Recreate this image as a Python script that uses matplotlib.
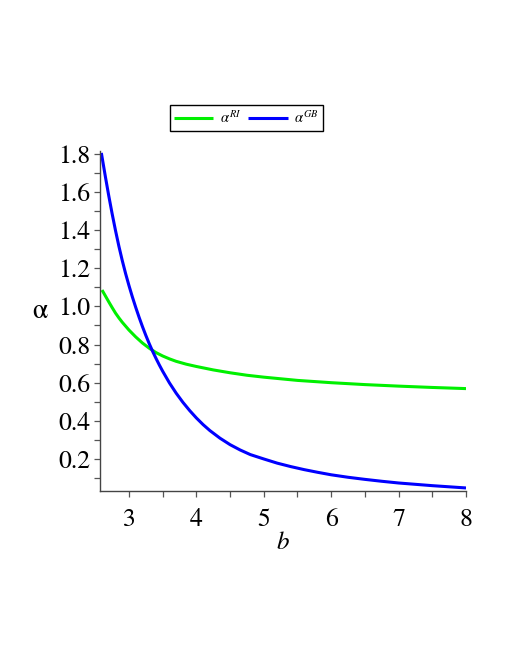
import matplotlib
matplotlib.use("Agg")
import matplotlib.pyplot as plt
from matplotlib.ticker import MultipleLocator

# Data
b_ri = [2.60, 2.65, 2.70, 2.75, 2.80, 2.85, 2.90, 3.00, 3.10, 3.20, 3.30, 3.40, 3.50, 3.60, 3.70, 3.85,
        4.00, 4.25, 4.50, 4.75, 5.00, 5.50, 6.00, 6.50, 7.00, 7.50, 8.00]
alpha_ri = [1.086, 1.055, 1.024, 0.994, 0.965, 0.940, 0.917, 0.876, 0.840, 0.808, 0.781, 0.758, 0.740, 0.725, 0.712, 0.697,
            0.685, 0.667, 0.652, 0.639, 0.629, 0.612, 0.600, 0.590, 0.582, 0.575, 0.569]

b_gb = [2.59, 2.65, 2.70, 2.75, 2.80, 2.85, 2.90, 2.95, 3.00, 3.05, 3.10, 3.15, 3.20, 3.25, 3.30, 3.35, 3.40, 3.45,
        3.50, 3.60, 3.70, 3.80, 3.90, 4.00, 4.10, 4.20, 4.35, 4.50, 4.65, 4.80, 5.00, 5.20, 5.40, 5.60, 5.80,
        6.00, 6.25, 6.50, 6.75, 7.00, 7.25, 7.50, 7.75, 8.00]
alpha_gb = [1.805, 1.680, 1.580, 1.486, 1.398, 1.316, 1.241, 1.172, 1.109, 1.050, 0.995, 0.943, 0.894, 0.848, 0.805,
            0.765, 0.728, 0.693, 0.660, 0.599, 0.545, 0.497, 0.454, 0.415, 0.380, 0.349, 0.309, 0.275, 0.247, 0.223,
            0.200, 0.178, 0.160, 0.144, 0.130, 0.117, 0.104, 0.093, 0.083, 0.074, 0.067, 0.060, 0.054, 0.048]

labels = [r'$\alpha^{RI}$', r'$\alpha^{GB}$']
colors = ['#00f000', '#0000ff']
x_ticks = [3, 4, 5, 6, 7, 8]
y_ticks = [0.2, 0.4, 0.6, 0.8, 1.0, 1.2, 1.4, 1.6, 1.8]

plt.rcParams['mathtext.fontset'] = 'stix'
plt.rcParams['font.family'] = ['STIXGeneral', 'Liberation Serif', 'DejaVu Serif']

fig = plt.figure(figsize=(5.1, 6.6), dpi=100)
ax = fig.add_axes([100/510, 1-491/660, 366/510, 340/660])

l1, = ax.plot(b_ri, alpha_ri, color=colors[0], lw=2.2, label=labels[0], solid_capstyle='butt')
l2, = ax.plot(b_gb, alpha_gb, color=colors[1], lw=2.2, label=labels[1], solid_capstyle='butt')

ax.set_xlim(2.57, 8.0)
ax.set_ylim(0.032, 1.815)
ax.set_xticks(x_ticks)
ax.set_xticklabels([str(v) for v in x_ticks])
ax.set_yticks(y_ticks)
ax.set_yticklabels([f"{v:.1f}" for v in y_ticks])
ax.xaxis.set_minor_locator(MultipleLocator(0.5))
ax.yaxis.set_minor_locator(MultipleLocator(0.1))

for s in ['top', 'right']:
    ax.spines[s].set_visible(False)
for s in ['left', 'bottom']:
    ax.spines[s].set_color('#444444')
    ax.spines[s].set_linewidth(1.0)

ax.tick_params(axis='both', which='both', direction='out', length=4, width=0.9, color='#555555')
ax.tick_params(axis='x', which='major', labelsize=18.5, pad=8)
ax.tick_params(axis='y', which='major', labelsize=18.5, pad=3)

ax.set_xlabel('b', fontsize=18, style='italic', labelpad=0)
ax.set_ylabel('α', fontsize=20, rotation=0, labelpad=12)
ax.yaxis.set_label_coords(-0.165, 0.49)

leg = fig.legend(handles=[l1, l2], loc='center', bbox_to_anchor=(0.483, 0.821), ncol=2,
                 fontsize=10.5, frameon=True, fancybox=False, edgecolor='black', framealpha=1,
                 handlelength=2.7, handletextpad=0.45, columnspacing=0.5, borderpad=0.3, borderaxespad=0)
leg.get_frame().set_linewidth(1.0)

fig.savefig('out.png', dpi=100)
